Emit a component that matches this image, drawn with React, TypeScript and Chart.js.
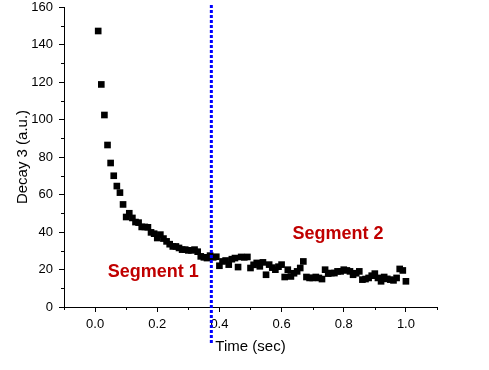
import React, { useEffect, useRef } from "react";
import { Chart, registerables } from "chart.js";

Chart.register(...registerables);

// Time (sec) and Decay 3 (a.u.) readings
const timeSec: number[] = [
  0.01, 0.02, 0.03, 0.04, 0.05, 0.06, 0.07, 0.08, 0.09, 0.10,
  0.11, 0.12, 0.13, 0.14, 0.15, 0.16, 0.17, 0.18, 0.19, 0.20,
  0.21, 0.22, 0.23, 0.24, 0.25, 0.26, 0.27, 0.28, 0.29, 0.30,
  0.31, 0.32, 0.33, 0.34, 0.35, 0.36, 0.37, 0.38, 0.39, 0.40,
  0.41, 0.42, 0.43, 0.44, 0.45, 0.46, 0.47, 0.48, 0.49, 0.50,
  0.51, 0.52, 0.53, 0.54, 0.55, 0.56, 0.57, 0.58, 0.59, 0.60,
  0.61, 0.62, 0.63, 0.64, 0.65, 0.66, 0.67, 0.68, 0.69, 0.70,
  0.71, 0.72, 0.73, 0.74, 0.75, 0.76, 0.77, 0.78, 0.79, 0.80,
  0.81, 0.82, 0.83, 0.84, 0.85, 0.86, 0.87, 0.88, 0.89, 0.90,
  0.91, 0.92, 0.93, 0.94, 0.95, 0.96, 0.97, 0.98, 0.99, 1.00,
];

const decay3: number[] = [
  147.2, 118.7, 102.4, 86.4, 76.8, 70.0, 64.5, 61.0, 54.7, 48.0,
  50.0, 47.5, 45.3, 45.0, 42.7, 42.7, 42.5, 39.8, 39.1, 36.8,
  38.6, 36.5, 35.0, 33.5, 32.3, 32.3, 31.5, 30.6, 30.6, 30.2,
  30.2, 30.6, 29.5, 27.0, 26.5, 26.1, 27.4, 26.5, 26.8, 22.0,
  24.3, 24.8, 22.6, 25.5, 26.1, 21.3, 26.7, 26.5, 26.7, 20.8,
  22.5, 23.5, 21.7, 23.8, 17.2, 22.6, 21.0, 19.9, 21.5, 22.6,
  16.0, 19.9, 16.3, 18.0, 19.0, 20.8, 24.3, 16.0, 15.5, 15.5,
  16.0, 15.5, 14.9, 19.9, 17.8, 18.1, 18.1, 19.0, 19.0, 19.9,
  19.5, 19.0, 17.2, 18.0, 19.0, 14.6, 14.9, 15.5, 16.7, 17.8,
  15.5, 13.7, 16.0, 15.0, 14.6, 14.2, 15.5, 20.3, 19.5, 13.7,
];

const xMinorTicks: number[] = [-0.1, 0.1, 0.3, 0.5, 0.7, 0.9, 1.1];
const yMinorTicks: number[] = [10, 30, 50, 70, 90, 110, 130, 150];

const dividerTime = 0.374;

const segmentLabels: string[] = ["Segment 1", "Segment 2"];
const segmentLabelTime: number[] = [0.041, 0.635];
const segmentLabelValue: number[] = [18.8, 39.0];

const FONT = '"Liberation Sans", Arial, sans-serif';

const overlayPlugin = {
  id: "overlay",
  afterDraw(chart: any) {
    const { ctx, chartArea } = chart;
    const x = chart.scales.x;
    const y = chart.scales.y;
    ctx.save();
    ctx.strokeStyle = "#000";
    ctx.lineWidth = 1;
    for (const v of xMinorTicks) {
      const px = Math.round(x.getPixelForValue(v)) + 0.5;
      ctx.beginPath();
      ctx.moveTo(px, chartArea.bottom);
      ctx.lineTo(px, chartArea.bottom + 3);
      ctx.stroke();
    }
    for (const v of yMinorTicks) {
      const py = Math.round(y.getPixelForValue(v)) + 0.5;
      ctx.beginPath();
      ctx.moveTo(chartArea.left, py);
      ctx.lineTo(chartArea.left - 3, py);
      ctx.stroke();
    }
    // divider
    const dx = x.getPixelForValue(dividerTime);
    ctx.strokeStyle = "#0000FF";
    ctx.lineWidth = 3;
    ctx.setLineDash([3, 2]);
    ctx.beginPath();
    ctx.moveTo(dx, chartArea.top - 2);
    ctx.lineTo(dx, chartArea.bottom + 37);
    ctx.stroke();
    ctx.setLineDash([]);
    // segment labels
    ctx.fillStyle = "#C00000";
    ctx.font = `bold 18px ${FONT}`;
    ctx.textAlign = "left";
    ctx.textBaseline = "middle";
    segmentLabels.forEach((t, i) => {
      ctx.fillText(t, x.getPixelForValue(segmentLabelTime[i]), y.getPixelForValue(segmentLabelValue[i]));
    });
    ctx.restore();
  },
};

export default function App() {
  const ref = useRef<HTMLCanvasElement>(null);
  useEffect(() => {
    if (!ref.current) return;
    const chart = new Chart(ref.current, {
      type: "scatter",
      data: {
        datasets: [
          {
            data: timeSec.map((t, i) => ({ x: t, y: decay3[i] })),
            pointStyle: "rect",
            pointRadius: 4.7,
            pointHoverRadius: 4.7,
            pointBorderWidth: 0,
            backgroundColor: "#000",
            borderColor: "#000",
            showLine: false,
          },
        ],
      },
      plugins: [overlayPlugin],
      options: {
        responsive: false,
        animation: false,
        events: [],
        layout: { padding: { top: 7, right: 52, left: 0, bottom: 0 } },
        plugins: { legend: { display: false }, tooltip: { enabled: false } },
        scales: {
          x: {
            type: "linear",
            min: -0.1,
            max: 1.1,
            afterFit: (s: any) => {
              s.height = 63;
              s.paddingLeft = 0;
              s.paddingRight = 0;
            },
            border: { display: true, color: "#000", width: 1 },
            grid: {
              drawOnChartArea: false,
              drawTicks: true,
              tickLength: 5,
              tickColor: (c: any) => {
                const v = Math.round(c.tick.value * 10);
                return v % 2 === 0 ? "#000" : "rgba(0,0,0,0)";
              },
            },
            ticks: {
              stepSize: 0.1,
              autoSkip: false,
              maxRotation: 0,
              padding: 5,
              color: "#000",
              font: { family: FONT, size: 13 },
              callback: (val: any) => {
                const v = Math.round(Number(val) * 10);
                return v % 2 === 0 && v >= 0 && v <= 10 ? (v / 10).toFixed(1) : "";
              },
            },
            title: {
              display: true,
              text: "Time (sec)",
              color: "#000",
              font: { family: FONT, size: 15 },
              padding: { top: 0, bottom: 14 },
            },
          },
          y: {
            type: "linear",
            min: 0,
            max: 160,
            afterFit: (s: any) => {
              s.width = 64;
              s.paddingTop = 0;
              s.paddingBottom = 0;
            },
            border: { display: true, color: "#000", width: 1 },
            grid: {
              drawOnChartArea: false,
              drawTicks: true,
              tickLength: 5,
              tickColor: (c: any) => {
                const v = Math.round(c.tick.value);
                return v % 20 === 0 ? "#000" : "rgba(0,0,0,0)";
              },
            },
            ticks: {
              stepSize: 10,
              autoSkip: false,
              padding: 6,
              color: "#000",
              font: { family: FONT, size: 13 },
              callback: (val: any) => {
                const v = Math.round(Number(val));
                return v % 20 === 0 ? String(v) : "";
              },
            },
            title: {
              display: true,
              text: "Decay 3 (a.u.)",
              color: "#000",
              font: { family: FONT, size: 15 },
              padding: { top: 14, bottom: 0 },
            },
          },
        },
      },
    });
    return () => chart.destroy();
  }, []);
  return (
    <div style={{ position: "absolute", left: 0, top: 0, width: 489, height: 370, background: "#fff" }}>
      <canvas ref={ref} width={489} height={370} style={{ display: "block" }} />
    </div>
  );
}
